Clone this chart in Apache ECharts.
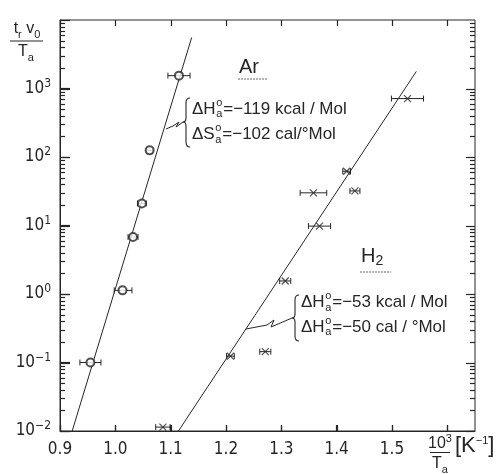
<!DOCTYPE html>
<html><head><meta charset="utf-8">
<script src="https://cdn.jsdelivr.net/npm/echarts@6/dist/echarts.min.js"></script>
<style>html,body{margin:0;padding:0;background:#fff}#c{width:503px;height:474px}</style>
</head><body><div id="c"></div>
<script>
// ---------- data ----------
const arX = [0.955, 1.013, 1.032, 1.048, 1.062, 1.115];
const arY = [0.1, 1.13, 6.8, 21, 125, 1540];
const arXErrLo = [0.019, 0.015, 0.009, 0.008, 0.005, 0.02];
const arXErrHi = [0.019, 0.017, 0.009, 0.008, 0.005, 0.02];
const arFitX = [0.922, 1.138];
const arFitY = [0.01, 5560];

const h2X = [1.086, 1.208, 1.271, 1.307, 1.358, 1.369, 1.418, 1.433, 1.528];
const h2Y = [0.0114, 0.124, 0.144, 1.55, 30, 9.8, 62, 32, 713];
const h2XErr = [0.013, 0.007, 0.01, 0.01, 0.024, 0.02, 0.007, 0.009, 0.029];
const h2FitX = [1.114, 1.544];
const h2FitY = [0.01, 1778];

const xTickLabels = ['0.9', '1.0', '1.1', '1.2', '1.3', '1.4', '1.5'];
const xTickValues = [0.9, 1.0, 1.1, 1.2, 1.3, 1.4, 1.5, 1.6];
const yDecades = [-2, -1, 0, 1, 2, 3];
const minorFactors = [2, 3, 4, 5, 6, 7, 8, 9];
const X_MIN = 0.9, X_MAX = 1.65, Y_MIN = 0.01, Y_MAX = 10000;

// ---------- style ----------
const FONT = "'Liberation Sans', Arial, sans-serif";
const NARROW = "'Liberation Sans Narrow', 'DejaVu Sans Condensed', 'Liberation Sans', sans-serif";
const INK = '#262626';

const chart = echarts.init(document.getElementById('c'), null, {renderer: 'canvas'});

// tick marks: [x, y, dx, dy] (direction & length in px)
const tickData = [];
yDecades.forEach(n => {
  const d = Math.pow(10, n);
  tickData.push([X_MIN, d, 10, 0]);
  tickData.push([X_MAX, d, -9, 0]);
  minorFactors.forEach(f => {
    tickData.push([X_MIN, f * d, 5, 0]);
    tickData.push([X_MAX, f * d, -5, 0]);
  });
});
xTickValues.forEach(x => {
  tickData.push([x, Y_MIN, 0, -6]);
  tickData.push([x, Y_MAX, 0, 6]);
});

function errData(xs, ys, lo, hi) {
  return xs.map((x, i) => [x, ys[i], x - lo[i], x + hi[i]]);
}
function errRender(params, api) {
  const y = api.value(1);
  const a = api.coord([api.value(2), y]);
  const b = api.coord([api.value(3), y]);
  const st = {stroke: INK, lineWidth: 1};
  return {type: 'group', children: [
    {type: 'line', shape: {x1: a[0], y1: a[1], x2: b[0], y2: b[1]}, style: st},
    {type: 'line', shape: {x1: a[0], y1: a[1] - 3, x2: a[0], y2: a[1] + 3}, style: st},
    {type: 'line', shape: {x1: b[0], y1: b[1] - 3, x2: b[0], y2: b[1] + 3}, style: st}
  ]};
}

const ctx = document.createElement('canvas').getContext('2d');
function tw(s, size, fam) { ctx.font = size + 'px ' + (fam || FONT); return ctx.measureText(s).width; }
function txt(s, x, y, size, align, fam) {
  return {type: 'text', x: x, y: y, silent: true,
    style: {text: s, fontFamily: fam || FONT, fontSize: size, fill: INK,
      align: align || 'left', verticalAlign: 'middle', textAlign: align || 'left', textVerticalAlign: 'middle'}};
}
function formula(x, yc, pre, sup, sub, post, size) {
  const small = Math.round(size * 0.62);
  const w1 = tw(pre, size);
  const ws = Math.max(tw(sup, small), tw(sub, small));
  return [
    txt(pre, x, yc, size),
    txt(sup, x + w1 + 0.5, yc - size * 0.36, small),
    txt(sub, x + w1 + 0.5, yc + size * 0.3, small),
    txt(post, x + w1 + ws + 1.5, yc, size)
  ];
}
function seg(pts, w, color, dash) {
  return {type: 'polyline', silent: true, shape: {points: pts},
    style: {stroke: color || INK, lineWidth: w || 1, fill: null, lineDash: dash || null}};
}
function curve(x1, y1, cx, cy, x2, y2) {
  return {type: 'bezierCurve', silent: true, shape: {x1: x1, y1: y1, cpx1: cx, cpy1: cy, x2: x2, y2: y2},
    style: {stroke: INK, lineWidth: 1.1, fill: null}};
}
function brace(x, top, bottom, mid) {
  return [
    curve(x + 5, top, x + 1, top, x + 1, top + 5),
    seg([[x + 1, top + 5], [x + 1, mid - 4]], 1.1),
    curve(x + 1, mid - 4, x + 1, mid, x - 2, mid),
    curve(x - 2, mid, x + 1, mid, x + 1, mid + 4),
    seg([[x + 1, mid + 4], [x + 1, bottom - 5]], 1.1),
    curve(x + 1, bottom - 5, x + 1, bottom, x + 5, bottom)
  ];
}

const richSub = {
  b: {fontSize: 16, lineHeight: 22, fontFamily: FONT, color: INK},
  s: {fontSize: 11, lineHeight: 11, padding: [11, 0, 0, 0], fontFamily: FONT, color: INK},
  p: {fontSize: 11, lineHeight: 11, padding: [0, 0, 11, 0], fontFamily: FONT, color: INK},
  B: {fontSize: 22, lineHeight: 22, fontFamily: FONT, color: INK}
};
function rtxt(s, x, y, align, rich) {
  return {type: 'text', x: x, y: y, silent: true,
    style: {text: s, rich: rich || richSub, align: align || 'center', verticalAlign: 'middle',
      textAlign: align || 'center', textVerticalAlign: 'middle', fill: INK}};
}

const graphics = [
  rtxt('{b|t}{s|r}{b| v}{s|0}', 27, 29),
  seg([[10, 41], [43, 41]], 1),
  rtxt('{b|T}{s|a}', 26, 52),
  rtxt('{b|10}{p|3}', 440, 444),
  seg([[430, 452.5], [450, 452.5]], 1),
  rtxt('{b|T}{s|a}', 440, 464),
  rtxt('{B|[K}{p|−1}{B|]}', 455, 446, 'left'),
  txt('Ar', 239, 67, 20),
  seg([[238, 79], [268, 79]], 1, '#666', [2, 1]),
  rtxt('{B|H}{s|2}', 361, 256, 'left', {
    B: {fontSize: 20, lineHeight: 20, fontFamily: FONT, color: INK},
    s: {fontSize: 14, lineHeight: 14, padding: [10, 0, 0, 0], fontFamily: FONT, color: INK}}),
  seg([[360, 272], [391, 272]], 1, '#666', [2, 1]),
  ...brace(185, 98, 147, 122),
  seg([[166, 129], [173, 126], [179, 122], [176, 127], [183, 122]], 1),
  ...formula(192, 109, 'ΔH', 'o', 'a', '=−119 kcal / Mol', 17),
  ...formula(192, 134.5, 'ΔS', 'o', 'a', '=−102 cal/°Mol', 17),
  ...brace(294, 295, 341, 318),
  seg([[246, 329], [267, 325], [274, 320], [271, 327], [292, 318]], 1),
  ...formula(301, 302.5, 'ΔH', 'o', 'a', '=−53 kcal / Mol', 17),
  ...formula(301, 327, 'ΔH', 'o', 'a', '=−50 cal / °Mol', 17)
];

const supExp = e => (e < 0 ? '−' + (-e) : '' + e);

const option = {
  animation: false,
  grid: {left: 60, right: 28, top: 20, bottom: 43, show: true, borderColor: INK, borderWidth: 1,
    backgroundColor: 'transparent'},
  xAxis: {type: 'value', min: X_MIN, max: X_MAX, interval: 0.1,
    axisLine: {show: true, lineStyle: {color: INK, width: 1}}, splitLine: {show: false},
    axisTick: {show: true, inside: true, length: 6, lineStyle: {color: INK, width: 1.2}},
    axisLabel: {color: INK, fontFamily: NARROW, fontSize: 17, margin: 10, showMaxLabel: false,
      formatter: v => { const s = (Math.round(v * 10) / 10).toFixed(1);
        return (Math.abs(v - Number(s)) < 1e-6 && xTickLabels.includes(s)) ? s : ''; }}},
  yAxis: {type: 'log', logBase: 10, min: Y_MIN, max: Y_MAX, splitNumber: 6,
    axisLine: {show: true, lineStyle: {color: INK, width: 1}}, splitLine: {show: false},
    minorTick: {show: false},
    axisTick: {show: true, inside: true, length: 10, lineStyle: {color: INK, width: 1.2}},
    axisLabel: {margin: 9, formatter: v => { const e = Math.round(Math.log10(v));
        if (!yDecades.includes(e) || Math.abs(Math.log10(v) - e) > 1e-6) return '';
        return '{b|10}{p|' + supExp(e) + '}'; },
      rich: {
        b: {fontSize: 17, lineHeight: 22, fontFamily: NARROW, color: INK},
        p: {fontSize: 12, lineHeight: 12, padding: [0, 0, 10, 0], fontFamily: NARROW, color: INK}
      }}},
  series: [
    {type: 'custom', name: 'arErr', clip: false, silent: true, encode: {x: 0, y: 1}, z: 2,
      data: errData(arX, arY, arXErrLo, arXErrHi), renderItem: errRender},
    {type: 'custom', name: 'h2Err', clip: false, silent: true, encode: {x: 0, y: 1}, z: 2,
      data: errData(h2X, h2Y, h2XErr, h2XErr), renderItem: errRender},
    {type: 'line', name: 'arFit', showSymbol: false, silent: true, z: 2,
      data: arFitX.map((x, i) => [x, arFitY[i]]), lineStyle: {color: INK, width: 1}},
    {type: 'line', name: 'h2Fit', showSymbol: false, silent: true, z: 2,
      data: h2FitX.map((x, i) => [x, h2FitY[i]]), lineStyle: {color: INK, width: 1}},
    {type: 'scatter', name: 'Ar', symbol: 'emptyCircle', symbolSize: 8, z: 3, silent: true,
      data: arX.map((x, i) => [x, arY[i]]),
      itemStyle: {color: INK, borderColor: INK, borderWidth: 0.8}},
    {type: 'scatter', name: 'H2', symbol: 'path://M0 0L10 10M10 0L0 10', symbolSize: 7, z: 3, silent: true,
      data: h2X.map((x, i) => [x, h2Y[i]]),
      itemStyle: {color: 'none', borderColor: INK, borderWidth: 1.2}}
  ]
};
chart.setOption(option);

// tick marks on all four sides, positioned through the chart's own scales
const tickEls = [];
tickData.forEach(t => {
  const p = chart.convertToPixel({xAxisIndex: 0, yAxisIndex: 0}, [t[0], t[1]]);
  if (!p || !isFinite(p[0]) || !isFinite(p[1])) return;
  const x = t[3] === 0 ? p[0] : Math.round(p[0]) + 0.5;
  const y = t[2] === 0 ? p[1] : Math.round(p[1]) + 0.5;
  const el = seg([[x, y], [x + t[2], y + t[3]]], 1.2);
  el.z = 50;
  tickEls.push(el);
});
chart.setOption({graphic: {elements: graphics.concat(tickEls)}});
</script>
</body></html>
